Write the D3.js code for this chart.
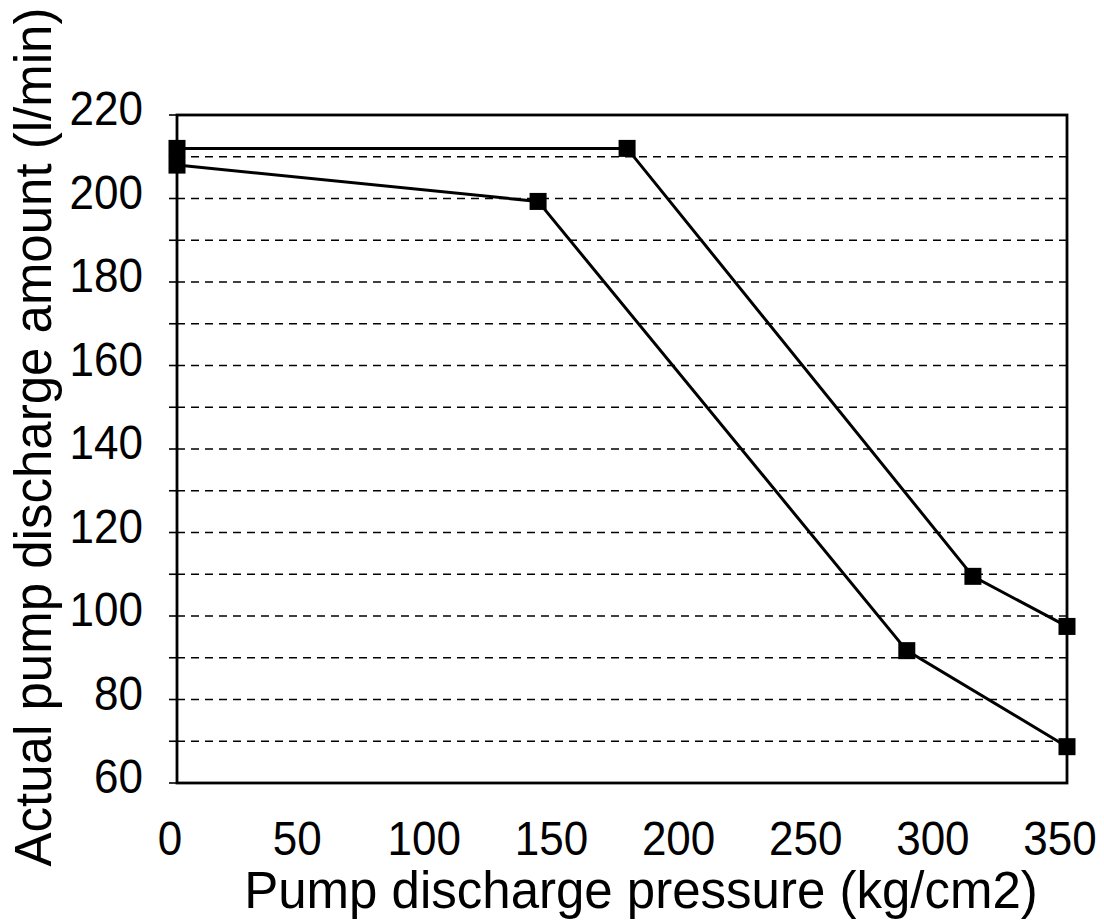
<!DOCTYPE html>
<html><head><meta charset="utf-8">
<script src="https://d3js.org/d3.v7.min.js"></script>
<style>body{margin:0;background:#fff}text{font-family:"Liberation Sans",Arial,sans-serif;fill:#000}</style>
</head><body><svg id="c" width="1104" height="921"></svg>
<script>
const seriesA_x = [0, 177, 313, 350];
const seriesA_y = [212, 212, 109.5, 97.5];
const seriesB_x = [0, 142, 287, 350];
const seriesB_y = [208, 199.3, 91.7, 68.7];
const xTicks = [0, 50, 100, 150, 200, 250, 300, 350];
const yTicks = [60, 80, 100, 120, 140, 160, 180, 200, 220];
const yGrid = [70, 80, 90, 100, 110, 120, 130, 140, 150, 160, 170, 180, 190, 200, 210];

const svg = d3.select("#c");
const L = 177, R = 1067, T = 115, B = 783;
const x = d3.scaleLinear().domain([0, 350]).range([L, R]);
const y = d3.scaleLinear().domain([60, 220]).range([B, T]);

// grid
svg.append("g").selectAll("line").data(yGrid).join("line")
  .attr("x1", L).attr("x2", R).attr("y1", d => y(d)).attr("y2", d => y(d))
  .attr("stroke", "#000").attr("stroke-width", 1.6).attr("stroke-dasharray", "8,6");

// left tick marks
svg.append("g").selectAll("line").data(d3.range(60, 221, 10)).join("line")
  .attr("x1", L - 8).attr("x2", L).attr("y1", d => y(d)).attr("y2", d => y(d))
  .attr("stroke", "#000").attr("stroke-width", 1.6);

// frame
svg.append("rect").attr("x", L).attr("y", T).attr("width", R - L).attr("height", B - T)
  .attr("fill", "none").attr("stroke", "#000").attr("stroke-width", 2.8);

// y labels
svg.append("g").selectAll("text").data(yTicks).join("text")
  .attr("transform", d => `translate(143,${y(d) + 10}) scale(1,1.08)`)
  .attr("text-anchor", "end").attr("font-size", 44).text(d => d);
// x labels
svg.append("g").selectAll("text").data(xTicks).join("text")
  .attr("transform", d => `translate(${x(d) - 7},855) scale(1,1.08)`)
  .attr("text-anchor", "middle").attr("font-size", 44).text(d => d);

svg.append("text").attr("x", 641).attr("y", 908).attr("text-anchor", "middle")
  .attr("font-size", 51).text("Pump discharge pressure (kg/cm2)");
svg.append("text").attr("transform", "translate(51,437) rotate(-90)").attr("text-anchor", "middle")
  .attr("font-size", 51).text("Actual pump discharge amount (l/min)");

const line = d3.line().x(d => x(d[0])).y(d => y(d[1]));
[[seriesA_x, seriesA_y], [seriesB_x, seriesB_y]].forEach(([xs, ys]) => {
  const pts = xs.map((v, i) => [v, ys[i]]);
  svg.append("path").datum(pts).attr("d", line).attr("fill", "none")
    .attr("stroke", "#000").attr("stroke-width", 3);
  svg.append("g").selectAll("rect").data(pts).join("rect")
    .attr("x", d => x(d[0]) - 8.5).attr("y", d => y(d[1]) - 8.5)
    .attr("width", 17).attr("height", 17).attr("fill", "#000");
});
</script></body></html>
